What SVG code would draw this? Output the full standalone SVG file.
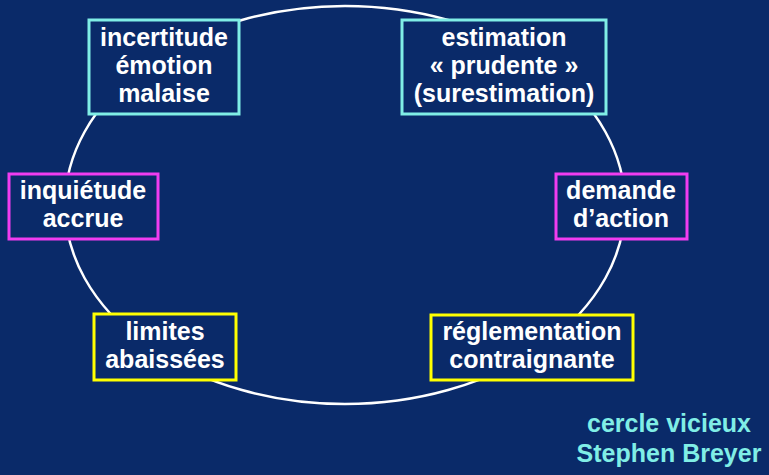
<svg xmlns="http://www.w3.org/2000/svg" width="769" height="475" viewBox="0 0 769 475">
<style>
.box{fill:#0a2a69;stroke-width:3}
.c{stroke:#80eee6}.m{stroke:#f03cf0}.y{stroke:#ffff00}
text{font-family:"Liberation Sans",Arial,Helvetica,sans-serif;font-weight:bold;font-size:25px;fill:#ffffff;text-anchor:middle}
.note{fill:#80eee6}
</style>
<rect width="769" height="475" fill="#0a2a69"/>
<g id="connectors">
<ellipse cx="345" cy="205" rx="280" ry="199" fill="none" stroke="#ffffff" stroke-width="2.5"/>
</g>
<g id="n1"><rect class="box c" x="89" y="20" width="150" height="94"/>
<text x="164" y="46">incertitude</text><text x="164" y="74">émotion</text><text x="164" y="102">malaise</text></g>
<g id="n2"><rect class="box c" x="402" y="20" width="204" height="94"/>
<text x="504" y="46">estimation</text><text x="504" y="74">« prudente »</text><text x="504" y="102">(surestimation)</text></g>
<g id="n3"><rect class="box m" x="9" y="174" width="149" height="65"/>
<text x="83" y="199">inquiétude</text><text x="83" y="227">accrue</text></g>
<g id="n4"><rect class="box m" x="556" y="174" width="131" height="65"/>
<text x="621" y="199">demande</text><text x="621" y="227">d’action</text></g>
<g id="n5"><rect class="box y" x="94" y="314" width="142" height="66"/>
<text x="165" y="340">limites</text><text x="165" y="368">abaissées</text></g>
<g id="n6"><rect class="box y" x="431" y="315" width="202" height="65"/>
<text x="532" y="340">réglementation</text><text x="532" y="368">contraignante</text></g>
<g id="caption"><text class="note" x="669" y="432">cercle vicieux</text><text class="note" x="669" y="462">Stephen Breyer</text></g>
</svg>
